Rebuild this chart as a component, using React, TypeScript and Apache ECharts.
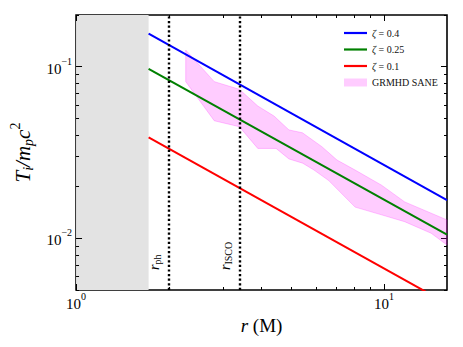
import React, { useEffect, useRef } from "react";
import * as echarts from "echarts";

const FONT = "Liberation Serif";

// Model lines (r in M, T_i / m_p c^2)
const zeta04 = [[1.72, 0.156], [16, 0.0167]];
const zeta025 = [[1.72, 0.097], [16, 0.0105]];
const zeta01 = [[1.72, 0.0388], [16, 0.00417]];

// GRMHD SANE band
const bandUpper = [
  [2.27, 0.125], [2.81, 0.0818], [3.39, 0.0738], [3.89, 0.059], [4.39, 0.0516],
  [4.91, 0.0428], [5.43, 0.0412], [6.28, 0.0342], [7.03, 0.0286], [8.05, 0.025],
  [9.81, 0.0204], [11.66, 0.0163], [16, 0.0128],
];
const bandLower = [
  [2.27, 0.0818], [2.81, 0.0484], [3.39, 0.0447], [3.89, 0.0334], [4.46, 0.0334],
  [4.91, 0.029], [5.44, 0.0274], [5.92, 0.025], [6.61, 0.0217], [7.2, 0.0186],
  [8.05, 0.0152], [9.81, 0.0137], [11.66, 0.0125], [14.22, 0.0107], [16, 0.00914],
];

const horizonR = 1.72;
const rPh = 2.0;
const rIsco = 3.4;

const xRange = [1, 16];
const yRange = [0.005, 0.2];
const xMajor = [1, 10];
const xMinor = [2, 3, 4, 5, 6, 7, 8, 9];
const yMajor = [0.01, 0.1];
const yMinor = [0.005, 0.006, 0.007, 0.008, 0.009, 0.02, 0.03, 0.04, 0.05, 0.06, 0.07, 0.08, 0.09, 0.2];

const expFmt = (v: number) => {
  const e = Math.round(Math.log10(v));
  return `{b|10}{e|${e < 0 ? "\u2212" + -e : e}}`;
};

const LINE_ICON = "path://M0,0H23V2.2H0Z";

export default function App() {
  const ref = useRef<HTMLDivElement>(null);
  useEffect(() => {
    const chart = echarts.init(ref.current!, null, { renderer: "svg" });

    const tickRich = {
      b: { fontFamily: FONT, fontSize: 15, color: "#000", padding: [4, 0, 0, 0] },
      e: { fontFamily: FONT, fontSize: 10, color: "#000", padding: [0, 0, 11, 0] },
    };

    const mkX = (pos: string, major: boolean, label: boolean, name?: boolean) => ({
      type: "log",
      logBase: 10,
      min: xRange[0],
      max: xRange[1],
      position: pos,
      axisLine: { show: false },
      splitLine: { show: false },
      axisTick: {
        show: true,
        inside: true,
        length: major ? 6 : 3,
        customValues: major ? xMajor : xMinor,
        lineStyle: { color: "#000", width: 1 },
      },
      axisLabel: label
        ? { show: true, customValues: xMajor, formatter: expFmt, rich: tickRich, margin: 1 }
        : { show: false },
      name: name ? "{i|r} (M)" : "",
      nameLocation: "middle",
      nameGap: 17,
      nameTextStyle: {
        fontFamily: FONT,
        fontSize: 19,
        color: "#000",
        rich: { i: { fontFamily: FONT, fontSize: 19, fontStyle: "italic", color: "#000" } },
      },
    });

    const mkY = (pos: string, major: boolean, label: boolean, name?: boolean) => ({
      type: "log",
      logBase: 10,
      min: yRange[0],
      max: yRange[1],
      position: pos,
      axisLine: { show: false },
      splitLine: { show: false },
      axisTick: {
        show: true,
        inside: true,
        length: major ? 6 : 3,
        customValues: major ? yMajor : yMinor,
        lineStyle: { color: "#000", width: 1 },
      },
      axisLabel: label
        ? { show: true, customValues: yMajor, formatter: expFmt, rich: tickRich, margin: 4 }
        : { show: false },
      name: name ? "{i|T}{s|i}{i|/m}{s|p}{i|c}{p|2}" : "",
      nameLocation: "middle",
      nameGap: 37,
      nameRotate: 90,
      nameTextStyle: {
        fontFamily: FONT,
        fontSize: 21,
        color: "#000",
        rich: {
          i: { fontFamily: FONT, fontSize: 21, fontStyle: "italic", color: "#000" },
          s: { fontFamily: FONT, fontSize: 14, fontStyle: "italic", color: "#000", padding: [12, 0, 0, 0] },
          p: { fontFamily: FONT, fontSize: 14, color: "#000", padding: [0, 0, 15, 0] },
        },
      },
    });

    const labelRich = {
      i: { fontFamily: FONT, fontSize: 14, fontStyle: "italic", color: "#000" },
      s: { fontFamily: FONT, fontSize: 10, color: "#000", padding: [7, 0, 0, 0] },
    };

    const option: any = {
      animation: false,
      grid: {
        left: 74,
        top: 15,
        right: 16,
        bottom: 57,
        show: true,
        borderColor: "#000",
        borderWidth: 1.6,
        backgroundColor: "transparent",
      },
      xAxis: [mkX("bottom", true, true, true), mkX("bottom", false, false), mkX("top", true, false), mkX("top", false, false)],
      yAxis: [mkY("left", true, true, true), mkY("left", false, false), mkY("right", true, false), mkY("right", false, false)],
      legend: {
        orient: "vertical",
        left: 339,
        top: 23,
        itemWidth: 23,
        itemHeight: 8,
        itemGap: 6.5,
        symbolKeepAspect: true,
        data: [
          { name: "ζ = 0.4", icon: LINE_ICON },
          { name: "ζ = 0.25", icon: LINE_ICON },
          { name: "ζ = 0.1", icon: LINE_ICON },
          { name: "GRMHD SANE", icon: "rect" },
        ],
        formatter: (n: string) => (n.startsWith("ζ") ? "{i|ζ}" + n.slice(1) : n),
        textStyle: {
          fontFamily: FONT,
          fontSize: 10,
          color: "#111",
          rich: { i: { fontFamily: FONT, fontSize: 10, fontStyle: "italic", color: "#111" } },
        },
      },
      series: [
        {
          name: "GRMHD SANE",
          type: "custom",
          xAxisIndex: 0,
          yAxisIndex: 0,
          z: 1,
          itemStyle: { color: "rgba(255,0,255,0.2)", borderColor: "rgba(255,0,255,0.3)" },
          data: bandUpper,
          renderItem: (params: any, api: any) => {
            if (params.dataIndex !== 0) return null;
            const pts = [
              ...bandUpper.map((p) => api.coord(p)),
              ...bandLower.slice().reverse().map((p) => api.coord(p)),
            ];
            return {
              type: "polygon",
              shape: { points: pts },
              style: { fill: "rgba(255,0,255,0.2)", stroke: "rgba(255,0,255,0.22)", lineWidth: 1 },
            };
          },
        },
        {
          name: "ζ = 0.4",
          type: "line",
          z: 3,
          symbol: "none",
          data: zeta04,
          lineStyle: { color: "#0000ff", width: 2 },
          itemStyle: { color: "#0000ff" },
          markArea: {
            silent: true,
            z: 0,
            itemStyle: { color: "#e3e3e3" },
            data: [[{ xAxis: xRange[0] }, { xAxis: horizonR }]],
          },
        },
        {
          name: "ζ = 0.25",
          type: "line",
          z: 3,
          symbol: "none",
          data: zeta025,
          lineStyle: { color: "#008000", width: 2 },
          itemStyle: { color: "#008000" },
        },
        {
          name: "ζ = 0.1",
          type: "line",
          z: 3,
          symbol: "none",
          data: zeta01,
          lineStyle: { color: "#ff0000", width: 2 },
          itemStyle: { color: "#ff0000" },
          markLine: {
            silent: true,
            symbol: "none",
            lineStyle: { color: "#000", type: [2.2, 2.4], width: 2.4 },
            label: {
              show: true,
              position: "insideStartTop",
              distance: [20, 6],
              rich: labelRich,
            },
            data: [
              { xAxis: rPh, label: { formatter: "{i|r}{s|ph}" } },
              { xAxis: rIsco, label: { formatter: "{i|r}{s|ISCO}" } },
            ],
          },
        },
      ],
    };
    chart.setOption(option);
    return () => chart.dispose();
  }, []);
  return <div ref={ref} style={{ width: 463, height: 347, position: "absolute", left: 0, top: 0 }} />;
}
